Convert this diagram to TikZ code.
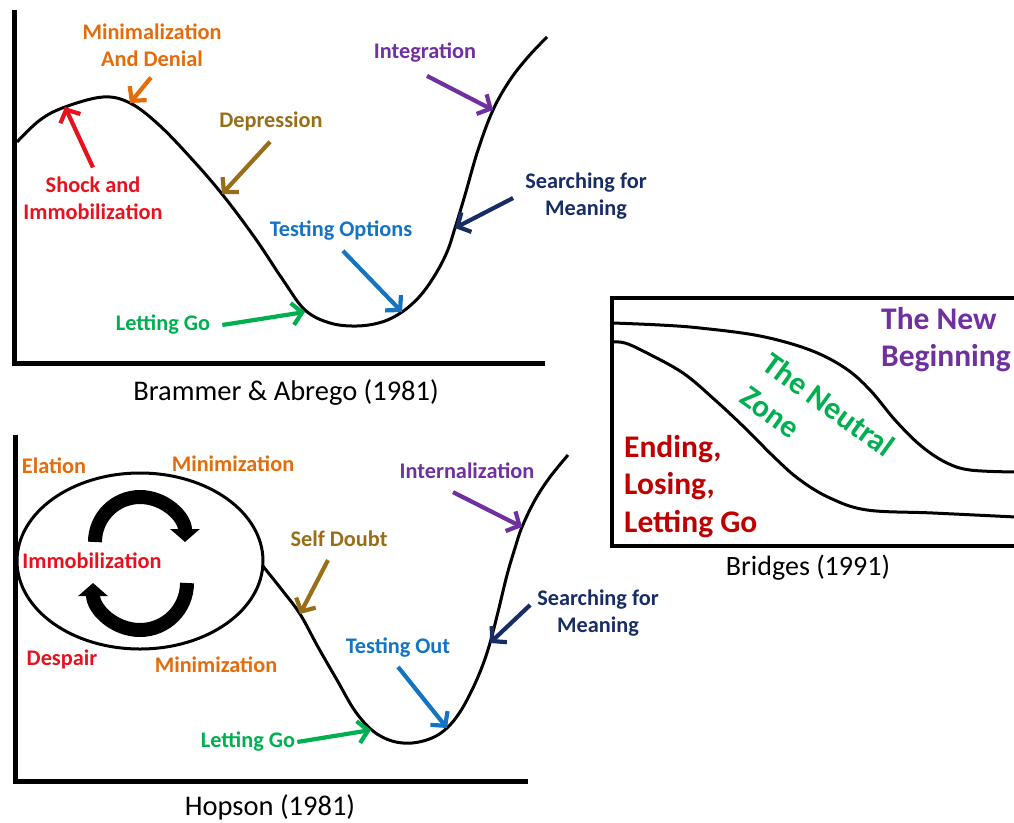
\documentclass[tikz,border=0pt]{standalone}
\usepackage{fontspec}
\setmainfont{Carlito}
\usetikzlibrary{arrows.meta,calc}
\definecolor{lorange}{RGB}{228,108,10}
\definecolor{lred}{RGB}{232,18,30}
\definecolor{lbrown}{RGB}{152,110,24}
\definecolor{lpurple}{RGB}{112,48,160}
\definecolor{lnavy}{RGB}{23,45,100}
\definecolor{lblue}{RGB}{20,115,195}
\definecolor{lgreen}{RGB}{0,176,80}
\definecolor{dred}{RGB}{192,0,0}
\begin{document}
\begin{tikzpicture}[x=1pt, y=-1pt,
  lab/.style={font=\bfseries\fontsize{22.3}{26.8}\selectfont, inner sep=0pt, align=center},
  big/.style={font=\bfseries\fontsize{31.5}{37.5}\selectfont, inner sep=0pt, align=left},
  caption/.style={font=\fontsize{28.5}{32}\selectfont, inner sep=0pt},
  axisline/.style={line width=5pt},
  curveline/.style={line width=3pt},
  pointer/.style={line width=4.2pt, -{Straight Barb[length=10pt, width=22pt]}},
  turnarrow/.style={line width=14pt, -{Triangle[length=13pt, width=29pt]}}]
 \clip (0,0) rectangle (1014,822);

 % Brammer & Abrego
 \draw[axisline] (14,10) -- (14,363) -- (545,363);
 \draw[curveline] plot[smooth, tension=0.6] coordinates {(17,142) (40,120) (65,107) (103,97)
   (130,103) (158,124) (190,157) (222,194) (255,238) (283,280) (305,310) (330,323) (357,326)
   (382,322) (402,312) (420,296) (435,275) (447,252) (455,228) (465,195) (478,150) (493,110)
   (510,80) (528,57) (547,37)};
 \coordinate (t1) at (65,107);
 \coordinate (t2) at (130,103);
 \coordinate (t3) at (222,194);
 \coordinate (t4) at (305,312);
 \coordinate (t5) at (402,312);
 \coordinate (t6) at (455,228);
 \coordinate (t7) at (493,110);
 \node[lab, lorange] (minz) at (152,45) {Minimalization\\And Denial};
 \node[lab, lred] (shock) at (93,198) {Shock and\\Immobilization};
 \node[lab, lbrown] (dep) at (271,121) {Depression};
 \node[lab, lpurple] (integ) at (425,53) {Integration};
 \node[lab, lnavy] (search) at (586,196) {Searching for\\Meaning};
 \node[lab, lblue] (testopt) at (341,231) {Testing Options};
 \node[lab, lgreen] (letgo) at (163,325) {Letting Go};
 \draw[pointer, lorange] ($(minz.south)+(-1,11)$) -- (t2);
 \draw[pointer, lred] ($(shock.north)+(0,-9)$) -- (t1);
 \draw[pointer, lbrown] ($(dep.south)+(-1,11)$) -- (t3);
 \draw[pointer, lpurple] ($(integ.south)+(2,13)$) -- (t7);
 \draw[pointer, lnavy] ($(search.west)+(-12,2)$) -- (t6);
 \draw[pointer, lblue] ($(testopt.south)+(2,10)$) -- (t5);
 \draw[pointer, lgreen] ($(letgo.east)+(12,0)$) -- (t4);
 \node[caption] (cap1) at (286,393) {Brammer \& Abrego (1981)};

 % Hopson
 \draw[axisline] (15,435) -- (15,781) -- (528,781);
 \draw[curveline] (140,561) ellipse[x radius=123pt, y radius=88pt];
 \draw[curveline] plot[smooth, tension=0.6] coordinates {(262,565) (282,590) (300,614) (318,647)
   (337,680) (355,711) (373,731) (392,741) (412,743) (432,738) (447,728) (460,712) (472,690)
   (482,667) (490,643) (498,612) (507,575) (515,548) (522,527) (535,500) (550,477) (568,455)};
 \draw[turnarrow] (95,542) arc[start angle=180, end angle=0, radius=45pt];
 \draw[turnarrow] (187,583) arc[start angle=0, end angle=-180, radius=47pt];
 \coordinate (b1) at (300,614);
 \coordinate (b2) at (371,730);
 \coordinate (b3) at (447,728);
 \coordinate (b4) at (490,643);
 \coordinate (b5) at (522,527);
 \node[lab, lorange] (elation) at (54,466) {Elation};
 \node[lab, lorange] (minup) at (233,464) {Minimization};
 \node[lab, lpurple] (intern) at (467,471) {Internalization};
 \node[lab, lred] (immob) at (92,561) {Immobilization};
 \node[lab, lbrown] (selfd) at (339,539) {Self Doubt};
 \node[lab, lnavy] (search2) at (598,613) {Searching for\\Meaning};
 \node[lab, lred] (despair) at (62,659) {Despair};
 \node[lab, lorange] (mindown) at (216,665) {Minimization};
 \node[lab, lblue] (testout) at (398,648) {Testing Out};
 \node[lab, lgreen] (letgo2) at (248,742) {Letting Go};
 \draw[pointer, lbrown] ($(selfd.south)+(-11,13)$) -- (b1);
 \draw[pointer, lpurple] ($(intern.south)+(-14,13)$) -- (b5);
 \draw[pointer, lnavy] ($(search2.west)+(-7,-8)$) -- (b4);
 \draw[pointer, lblue] ($(testout.south)+(0,9)$) -- (b3);
 \draw[pointer, lgreen] ($(letgo2.east)+(2,0)$) -- (b2);
 \node[caption] (cap2) at (270,807) {Hopson (1981)};

 % Bridges
 \draw[line width=3.5pt] (1020,298) -- (612,298) -- (612,546) -- (1020,546);
 \draw[curveline] plot[smooth, tension=0.6] coordinates {(613,323) (660,325) (700,328) (760,336)
   (810,350) (845,368) (870,390) (895,420) (920,445) (945,462) (970,470) (1016,472)};
 \draw[curveline] plot[smooth, tension=0.6] coordinates {(613,342) (625,343) (645,352) (683,373)
   (715,400) (745,428) (775,458) (800,480) (830,498) (867,510) (933,513) (1016,517)};
 \node[big, lpurple, anchor=north west] (newbeg) at (881,307) {The New\\Beginning};
 \node[big, lgreen, anchor=north west, rotate=-36] (neutral) at (773,350) {The Neutral};
 \node[big, lgreen, anchor=north west, rotate=-36] (zone) at (750,385) {Zone};
 \node[big, dred, anchor=north west] (ending) at (624,435) {Ending,\\Losing,\\Letting Go};
 \node[caption, font=\fontsize{28}{32}\selectfont] (cap3) at (808,568) {Bridges (1991)};
\end{tikzpicture}
\end{document}
